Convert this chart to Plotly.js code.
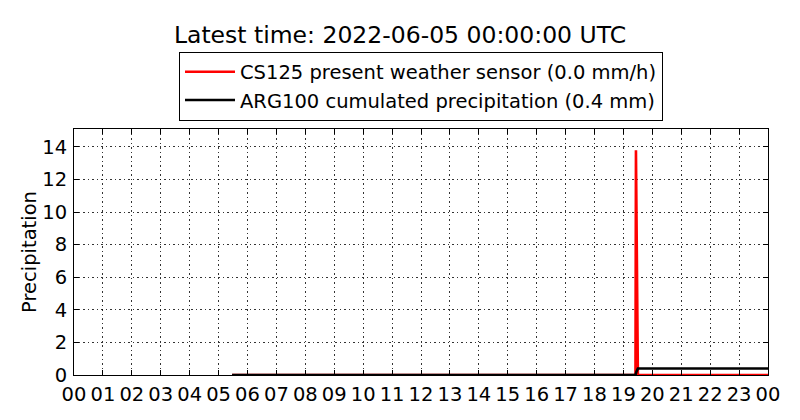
<!DOCTYPE html>
<html>
<head>
<meta charset="utf-8">
<script src="https://cdn.plot.ly/plotly-3.0.1.min.js"></script>
<style>html,body{margin:0;padding:0;background:#fff;}#chart{width:800px;height:420px;}</style>
</head>
<body>
<div id="chart"></div>
<script>
// Data
const cs125Times = ['2022-06-04 05:28','2022-06-04 19:25','2022-06-04 19:26','2022-06-04 19:30','2022-06-05 00:00'];
const cs125Values = [0, 0, 13.8, 0, 0];
const arg100Times = ['2022-06-04 05:28','2022-06-04 19:25','2022-06-04 19:27','2022-06-04 19:30','2022-06-05 00:00'];
const arg100Values = [0, 0, 0.2, 0.4, 0.4];
const cs125Name = 'CS125 present weather sensor (0.0 mm/h)';
const arg100Name = 'ARG100 cumulated precipitation (0.4 mm)';
const titleText = 'Latest time: 2022-06-05 00:00:00 UTC';
const yTicks = [0, 2, 4, 6, 8, 10, 12, 14];

const font = 'DejaVu Sans, sans-serif';
const fs = 19.5;
const traces = [
  {x: cs125Times, y: cs125Values, type: 'scatter', mode: 'lines', name: cs125Name,
   line: {color: '#ff0000', width: 2.6}},
  {x: arg100Times, y: arg100Values, type: 'scatter', mode: 'lines', name: arg100Name,
   line: {color: '#000000', width: 2.6}}
];
const axisCommon = {
  automargin: false,
  showline: true, mirror: 'allticks', linecolor: '#000', linewidth: 1,
  ticks: 'inside', ticklen: 5, tickcolor: '#000', tickwidth: 1,
  showgrid: true, gridcolor: '#000', gridwidth: 0.8, griddash: '1.5px,3px',
  zeroline: false, tickfont: {family: font, size: fs, color: '#000'}
};
const layout = {
  width: 800, height: 420,
  margin: {l: 74, r: 32, t: 129, b: 45},
  paper_bgcolor: '#fff', plot_bgcolor: '#fff',
  font: {family: font, color: '#000'},
  title: {text: titleText, font: {family: font, size: 23.5, color: '#000'},
          x: 0.5, xanchor: 'center', y: 0.917, yanchor: 'middle', automargin: false},
  showlegend: true,
  legend: {x: 0.5, xanchor: 'center', y: 1.315, yanchor: 'top',
           bordercolor: '#000', borderwidth: 1, bgcolor: '#fff', itemwidth: 50,
           font: {family: font, size: fs, color: '#000'}},
  xaxis: Object.assign({}, axisCommon, {
    type: 'date', range: ['2022-06-04 00:00', '2022-06-05 00:00'],
    dtick: 3600000, tick0: '2022-06-04 00:00', tickformat: '%H',
    ticklabelstandoff: 2
  }),
  yaxis: Object.assign({}, axisCommon, {
    range: [0, 15.1], tickvals: yTicks, ticklabelstandoff: 2,
    title: {text: 'Precipitation', font: {family: font, size: fs, color: '#000'}, standoff: 0}
  })
};
Plotly.newPlot('chart', traces, layout, {staticPlot: true, displayModeBar: false});
</script>
</body>
</html>
